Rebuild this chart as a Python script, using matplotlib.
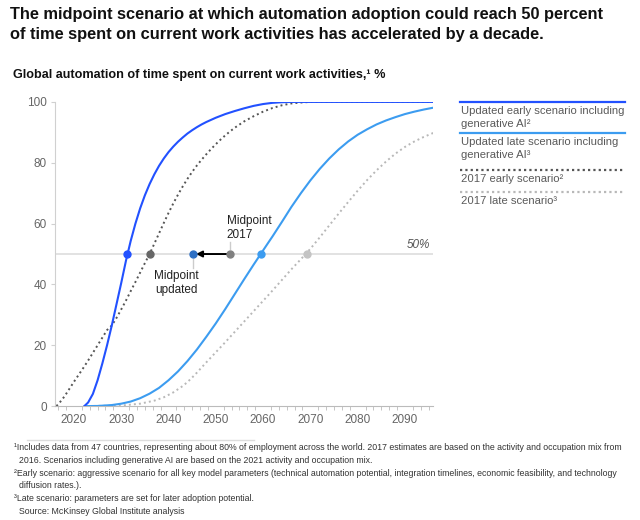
import matplotlib
matplotlib.use("Agg")
import matplotlib.pyplot as plt
from matplotlib.ticker import MultipleLocator, AutoMinorLocator

plt.rcParams["font.family"] = ["Liberation Sans", "DejaVu Sans"]

# values (year, % of time automated)
early_new_x = [2022.2, 2023, 2024, 2025, 2026, 2027, 2028, 2029, 2030, 2031,
               2032, 2033, 2034, 2035, 2036, 2037, 2038, 2039, 2040, 2041,
               2042, 2043, 2044, 2045, 2046, 2047, 2048, 2049, 2050, 2052,
               2054, 2056, 2058, 2060, 2062, 2064, 2066, 2096]
early_new_y = [0, 1.2, 4, 8.5, 14, 20, 26.5, 33.5, 40.5, 47.8,
               54.3, 60, 65, 69.3, 73, 76.2, 79, 81.4, 83.5, 85.3,
               86.9, 88.3, 89.6, 90.7, 91.7, 92.6, 93.4, 94.1, 94.8, 96,
               97, 97.9, 98.7, 99.3, 99.7, 99.9, 100, 100]

late_new_x = [2022.5, 2025, 2028, 2030, 2032, 2034, 2036, 2038, 2040, 2042,
              2044, 2046, 2048, 2050, 2052, 2054, 2056, 2058, 2059.5, 2061,
              2062, 2064, 2066, 2068, 2070, 2072, 2074, 2076, 2078, 2080,
              2082, 2084, 2086, 2088, 2090, 2092, 2094, 2096]
late_new_y = [0, 0.05, 0.35, 0.8, 1.5, 2.6, 4.1, 6, 8.5, 11.4,
              14.8, 18.6, 22.8, 27.2, 31.9, 36.8, 41.7, 46.5, 50, 53.5,
              55.8, 60.6, 65.5, 70, 74.2, 78, 81.4, 84.4, 87, 89.2,
              91, 92.6, 93.9, 95, 96, 96.8, 97.5, 98.1]

early_2017_x = [2016.3, 2017, 2018, 2019, 2020, 2021, 2022, 2023, 2024, 2025,
                2026, 2027, 2028, 2029, 2030, 2031, 2032, 2033, 2034, 2035,
                2036, 2037, 2038, 2039, 2040, 2041, 2042, 2043, 2044, 2045,
                2046, 2047, 2048, 2049, 2050, 2051, 2052, 2053, 2054, 2056,
                2058, 2060, 2062, 2064, 2066, 2068, 2070, 2096]
early_2017_y = [0, 1.2, 3.2, 5.6, 8, 10.3, 12.6, 15, 17.5, 20,
                22.5, 25, 26.5, 29, 31.8, 34.7, 37.8, 40.8, 43.9, 47,
                50, 53.4, 56.8, 60.2, 63.5, 66.6, 69.5, 72.2, 74.7, 77,
                79.1, 81, 82.8, 84.5, 86.1, 87.6, 89, 90.3, 91.5, 93.6,
                95.3, 96.8, 98, 98.9, 99.5, 99.8, 100, 100]

late_2017_x = [2022, 2030, 2034, 2037, 2039, 2041, 2043, 2044, 2045, 2046,
               2048, 2050, 2052, 2054, 2056, 2058, 2060, 2062, 2064, 2066,
               2068, 2070, 2072, 2074, 2076, 2078, 2080, 2082, 2084, 2086,
               2088, 2090, 2092, 2094, 2096]
late_2017_y = [0, 0.2, 0.8, 1.8, 2.9, 4.5, 6.6, 7.9, 9.4, 11,
               14.4, 17.7, 21, 24.4, 27.8, 31.2, 34.6, 38, 41.5, 45,
               48.3, 51.7, 55.5, 59.4, 63.3, 67.1, 70.8, 74.3, 77.5, 80.4,
               83, 85.2, 87, 88.5, 89.8]

# midpoints (year at 50%)
mid_early_new = 2031.3
mid_early_2017 = 2036.0
mid_updated = 2045.2
mid_2017 = 2052.9
mid_late_new = 2059.5
mid_late_2017 = 2069.2

c_blue = "#2251ff"
c_lblue = "#3c9cf0"
c_dgray = "#555555"
c_lgray = "#b8b8b8"

fig = plt.figure(figsize=(6.4, 5.2), dpi=100)
ax = fig.add_axes([0.086, 0.219, 0.591, 0.585])

ax.axhline(50, color="#dddddd", lw=1.2, zorder=1)

ax.plot(early_2017_x, early_2017_y, color=c_dgray, lw=1.4, ls=(0, (1, 1.6)), zorder=2)
ax.plot(late_2017_x, late_2017_y, color=c_lgray, lw=1.4, ls=(0, (1, 1.6)), zorder=2)
ax.plot(late_new_x, late_new_y, color=c_lblue, lw=1.5, zorder=3)
ax.plot(early_new_x, early_new_y, color=c_blue, lw=1.5, zorder=3)

# midpoint dots
dots = [(mid_early_new, c_blue), (mid_early_2017, "#666666"), (mid_updated, "#2d6fc4"),
        (mid_2017, "#808080"), (mid_late_new, c_lblue), (mid_late_2017, "#c4c4c4")]
for x, c in dots:
    ax.plot(x, 50, "o", color=c, ms=5, zorder=5)

ax.annotate("", xy=(mid_updated + 0.6, 50), xytext=(mid_2017 - 0.6, 50),
            arrowprops=dict(arrowstyle="-|>", color="black", lw=1.4,
                            mutation_scale=9, shrinkA=0, shrinkB=0), zorder=4)

ax.plot([mid_2017, mid_2017], [51.5, 54], color="#cccccc", lw=1, zorder=1)
ax.text(mid_2017 - 0.6, 54.4, "Midpoint\n2017", fontsize=8.5, color="#222222",
        ha="left", va="bottom", linespacing=1.2)
ax.plot([mid_updated, mid_updated], [48.5, 45.5], color="#cccccc", lw=1, zorder=1)
ax.text(mid_updated - 3.6, 44.8, "Midpoint\nupdated", fontsize=8.5, color="#222222",
        ha="center", va="top", linespacing=1.25)

ax.text(2095.4, 50.9, "50%", fontsize=8.5, color="#555555", style="italic",
        ha="right", va="bottom")

ax.set_xlim(2016, 2096)
ax.set_ylim(0, 100)
ax.xaxis.set_major_locator(MultipleLocator(10))
ax.xaxis.set_minor_locator(AutoMinorLocator(6))
ax.yaxis.set_major_locator(MultipleLocator(20))
for s in ["top", "right"]:
    ax.spines[s].set_visible(False)
ax.spines["left"].set_color("#d0d0d0")
ax.spines["bottom"].set_color("#bbbbbb")
ax.tick_params(axis="x", which="both", length=3, color="#bbbbbb", labelsize=8.5,
               labelcolor="#666666", pad=6)
ax.tick_params(axis="x", which="major", length=0)
ax.tick_params(axis="y", length=3, color="#d0d0d0", labelsize=8.5, labelcolor="#666666", pad=3)

# titles
fig.text(0.016, 0.986, "The midpoint scenario at which automation adoption could reach 50 percent\n"
         "of time spent on current work activities has accelerated by a decade.",
         fontsize=11.8, fontweight="bold", color="#111111", va="top", linespacing=1.38)
fig.text(0.021, 0.856, "Global automation of time spent on current work activities,\u00b9 %",
         fontsize=9.1, fontweight="bold", color="#111111", va="center")

# legend on the right
legend_items = [
    (c_blue, "-", 0.804, "Updated early scenario including\ngenerative AI\u00b2"),
    (c_lblue, "-", 0.744, "Updated late scenario including\ngenerative AI\u00b3"),
    (c_dgray, ":", 0.673, "2017 early scenario\u00b2"),
    (c_lgray, ":", 0.631, "2017 late scenario\u00b3"),
]
for c, ls, y, label in legend_items:
    fig.add_artist(plt.Line2D([0.719, 0.977], [y, y], color=c, lw=1.6,
                              ls=ls if ls == "-" else (0, (1, 1.4)), transform=fig.transFigure))
    fig.text(0.721, y - 0.008, label, fontsize=8.1, color="#5a5a5a", va="top", linespacing=1.38)

# footnotes
fig.add_artist(plt.Line2D([0.042, 0.397], [0.154, 0.154], color="#dddddd", lw=1,
                          transform=fig.transFigure))
notes = [
    (0.022, "\u00b9Includes data from 47 countries, representing about 80% of employment across the world. 2017 estimates are based on the activity and occupation mix from"),
    (0.029, "2016. Scenarios including generative AI are based on the 2021 activity and occupation mix."),
    (0.022, "\u00b2Early scenario: aggressive scenario for all key model parameters (technical automation potential, integration timelines, economic feasibility, and technology"),
    (0.029, "diffusion rates.)."),
    (0.022, "\u00b3Late scenario: parameters are set for later adoption potential."),
    (0.029, "Source: McKinsey Global Institute analysis"),
]
y = 0.148
for x, t in notes:
    fig.text(x, y, t, fontsize=6.3, color="#333333", va="top")
    y -= 0.0245

fig.savefig("out.png", dpi=100)
